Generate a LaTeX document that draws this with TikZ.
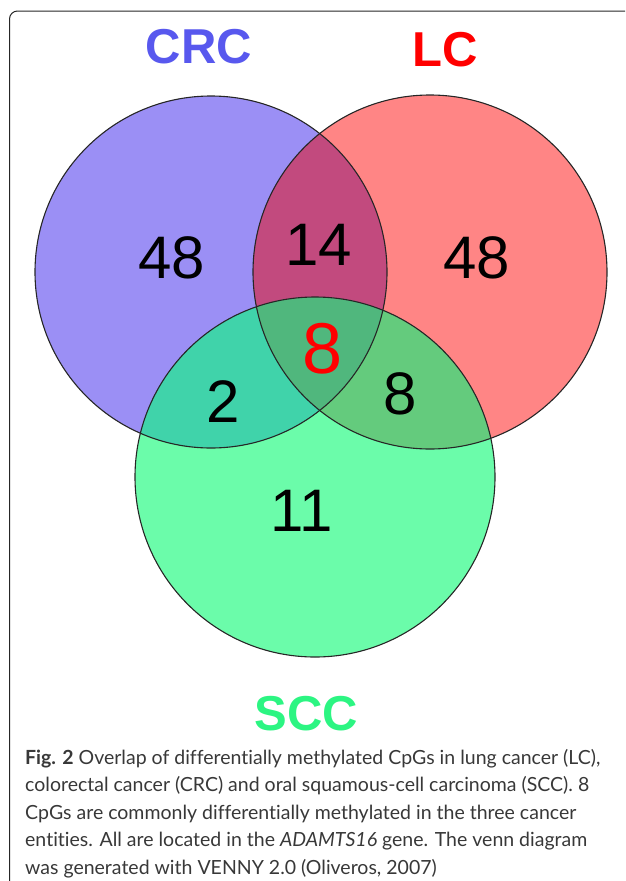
\documentclass[tikz,border=0pt]{standalone}
\usepackage{fontspec}
\setmainfont{Lato}[Ligatures={NoCommon,NoContextual,NoRare}]
\newfontfamily\arialfont{Liberation Sans}
\definecolor{crconly}{HTML}{9B8FF5}
\definecolor{lconly}{HTML}{FF8585}
\definecolor{sccconly}{HTML}{6BFCAA}
\definecolor{crclc}{HTML}{C24A7E}
\definecolor{crcscc}{HTML}{40D3AA}
\definecolor{lcscc}{HTML}{64CB7D}
\definecolor{allthree}{HTML}{50B77D}
\definecolor{crclab}{HTML}{5858EE}
\definecolor{lclab}{HTML}{FF0000}
\definecolor{scclab}{HTML}{2CF582}
\definecolor{captxt}{HTML}{383838}
\tikzset{
  setlab/.style={font=\arialfont\bfseries\fontsize{49}{49}\selectfont, inner sep=0pt},
  count/.style={font=\arialfont\fontsize{60}{60}\selectfont, inner sep=0pt, text=black},
  capline/.style={font=\fontsize{19.5}{27}\selectfont, text=captxt, inner sep=0pt, anchor=base west},
  ring/.style={draw=black!85, line width=1.1pt}
}
\begin{document}
\begin{tikzpicture}[x=1pt,y=-1pt]
\useasboundingbox (0,0) rectangle (625,881);
% frame
\draw[line width=1pt, black!85, rounded corners=8pt] (9.5,881) -- (9.5,11) -- (625,11);
% centres
\coordinate (cA) at (211,272);
\coordinate (cB) at (430,272);
\coordinate (cC) at (315,477);
\def\rA{176pt}\def\rB{177pt}\def\rC{180pt}
% single fills
\fill[crconly] (cA) circle[radius=\rA];
\fill[lconly] (cB) circle[radius=\rB];
\fill[sccconly] (cC) circle[radius=\rC];
% pairwise
\begin{scope}
  \clip (cA) circle[radius=\rA];
  \fill[crclc] (cB) circle[radius=\rB];
  \fill[crcscc] (cC) circle[radius=\rC];
\end{scope}
\begin{scope}
  \clip (cB) circle[radius=\rB];
  \fill[lcscc] (cC) circle[radius=\rC];
\end{scope}
\begin{scope}
  \clip (cA) circle[radius=\rA];
  \clip (cB) circle[radius=\rB];
  \fill[allthree] (cC) circle[radius=\rC];
\end{scope}
% outlines
\draw[ring] (cA) circle[radius=\rA];
\draw[ring] (cB) circle[radius=\rB];
\draw[ring] (cC) circle[radius=\rC];
% set labels
\node[setlab, text=crclab] (crc) at (199,47) {CRC};
\node[setlab, text=lclab] (lc) at (445.5,50) {LC};
\node[setlab, text=scclab] (scc) at (306.5,714) {SCC};
% counts
\node[count] (nA) at (172,258) {48};
\node[count] (nAB) at (319,245) {14};
\node[count] (nB) at (477,258) {48};
\node[count, text=red, font=\arialfont\fontsize{72}{72}\selectfont] (nABC) at (322.5,349) {8};
\node[count] (nAC) at (223,401.5) {2};
\node[count] (nBC) at (400,393.5) {8};
\node[count] (nC) at (302,511) {11};
% caption
\node[capline] (cap1) at (25,764) {\textbf{Fig. 2} Overlap of differentially methylated CpGs in lung cancer (LC),};
\node[capline] (cap2) at (25,791.5) {colorectal cancer (CRC) and oral squamous-cell carcinoma (SCC). 8};
\node[capline] (cap3) at (25,819) {CpGs are commonly differentially methylated in the three cancer};
\node[capline] (cap4) at (25,846.5) {entities. All are located in the \textit{ADAMTS16} gene. The venn diagram};
\node[capline] (cap5) at (25,874) {was generated with VENNY 2.0 (Oliveros, 2007)};
\end{tikzpicture}
\end{document}
